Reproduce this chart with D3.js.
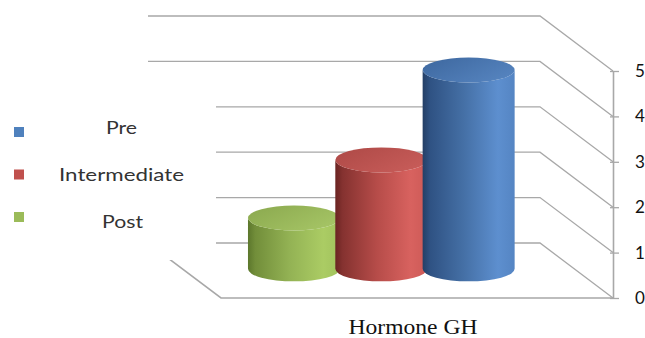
<!DOCTYPE html>
<html><head><meta charset="utf-8">
<script src="https://cdn.jsdelivr.net/npm/d3@7"></script>
<style>html,body{margin:0;padding:0;background:#fff;overflow:hidden}</style>
</head><body>
<svg id="c" width="645" height="338"></svg>
<script>
// ---- data ----
const category = ["Hormone GH"];
const series = ["Pre", "Intermediate", "Post"];
const values = [4.38, 2.4, 1.12];
const drawOrder = ["Post", "Intermediate", "Pre"]; // left to right
const colors = ["#4f81bd", "#c0504d", "#9bbb59"];
const yTicks = [0, 1, 2, 3, 4, 5];

// ---- layout ----
const svg = d3.select("#c");
const back = {left: 148, right: 540};
const depthDX = 73, depthDY = 55;
const yScale = d3.scaleLinear().domain([0, 5]).range([243, 16]); // back wall
const x0 = d3.scaleBand().domain(category).range([back.left, back.right]);
const x1 = d3.scaleBand().domain(drawOrder).range([68, 330]);
const cylDepth = 0.47; // fraction from back wall
const rx = 46, ry = 12.5;
const grid = "#a8a8a8";

const defs = svg.append("defs");
function hGrad(id, stops) {
  const g = defs.append("linearGradient").attr("id", id).attr("x1", 0).attr("x2", 1).attr("y1", 0).attr("y2", 0);
  stops.forEach(s => g.append("stop").attr("offset", s[0]).attr("stop-color", s[1]));
}
function tGrad(id, stops) {
  const g = defs.append("linearGradient").attr("id", id).attr("x1", 0).attr("x2", 1).attr("y1", 0).attr("y2", 0.6);
  stops.forEach(s => g.append("stop").attr("offset", s[0]).attr("stop-color", s[1]));
}
const sideStops = {
  "Pre": [[0, "#243f66"], [0.08, "#2f5283"], [0.45, "#4570a6"], [0.82, "#5d8fcf"], [1, "#5585c3"]],
  "Intermediate": [[0, "#6a2422"], [0.08, "#853230"], [0.45, "#b64c49"], [0.82, "#d8625f"], [1, "#cd5a57"]],
  "Post": [[0, "#5c772c"], [0.08, "#728e3a"], [0.45, "#93b254"], [0.82, "#abcc64"], [1, "#a1c25d"]]
};
const topStops = {
  "Pre": [[0, "#3d679e"], [1, "#5482bd"]],
  "Intermediate": [[0, "#ad4946"], [1, "#c65b58"]],
  "Post": [[0, "#8aa84e"], [1, "#a4c364"]]
};
series.forEach((s, i) => {
  hGrad("side" + i, sideStops[s]);
  tGrad("top" + i, topStops[s]);
});

// ---- grid: back wall + right wall + floor ----
const gGrid = svg.append("g").attr("fill", "none").attr("stroke", grid).attr("stroke-width", 1.3);
yTicks.forEach(t => {
  const yb = yScale(t);
  gGrid.append("path").attr("d",
    `M${back.left},${yb}L${back.right},${yb}L${back.right + depthDX},${yb + depthDY}`);
});
gGrid.append("path").attr("d",
  `M${back.left},${yScale(0)}L${back.left + depthDX},${yScale(0) + depthDY}L${back.right + depthDX},${yScale(0) + depthDY}`)
  .attr("stroke-width", 1.6);

// ---- legend (white box covers gridlines) ----
const leg = svg.append("g");
leg.append("rect").attr("x", 0).attr("y", 86).attr("width", 216).attr("height", 174).attr("fill", "#fff");
const legBox = d3.scalePoint().domain(series).range([127, 212]);
const legText = d3.scalePoint().domain(series).range([133.5, 228]);
series.forEach((s, i) => {
  leg.append("rect").attr("x", 14).attr("y", legBox(s)).attr("width", 10).attr("height", 10).attr("fill", colors[i]);
});
const legW = {"Pre": 31, "Intermediate": 125, "Post": 41};
const legX = {"Pre": 121.5, "Intermediate": 121.5, "Post": 122.5};
series.forEach(s => {
  leg.append("text").attr("x", legX[s]).attr("y", legText(s))
    .attr("text-anchor", "middle").attr("font-family", "Lato, 'Open Sans', sans-serif")
    .attr("font-size", 18).attr("fill", "#333")
    .attr("textLength", legW[s]).attr("lengthAdjust", "spacingAndGlyphs")
    .text(s);
});

// ---- front value axis ----
const axis = d3.axisRight(yScale).tickValues(yTicks).tickFormat(d3.format("d"))
  .tickSizeInner(6).tickSizeOuter(0).tickPadding(16);
const gAxis = svg.append("g").attr("transform", `translate(${back.right + depthDX},${depthDY})`).call(axis);
gAxis.select(".domain").attr("stroke", grid).attr("stroke-width", 1.6);
gAxis.selectAll(".tick line").attr("stroke", grid).attr("stroke-width", 1.3).attr("x1", -3);
gAxis.selectAll(".tick text").attr("font-family", "Lato, 'Open Sans', sans-serif").attr("font-size", 17).attr("fill", "#111");

// ---- cylinders ----
const gCyl = svg.append("g");
drawOrder.forEach(s => {
  const i = series.indexOf(s);
  const v = values[i];
  const cx = x0(category[0]) + x1(s) + x1.bandwidth() / 2 + cylDepth * depthDX;
  const yb = yScale(0) + cylDepth * depthDY;
  const yt = yScale(v) + cylDepth * depthDY;
  const side = `M${cx - rx},${yt}L${cx - rx},${yb}A${rx},${ry} 0 0 0 ${cx + rx},${yb}L${cx + rx},${yt}A${rx},${ry} 0 0 1 ${cx - rx},${yt}Z`;
  gCyl.append("path").attr("d", side).attr("fill", `url(#side${i})`);
  gCyl.append("ellipse").attr("cx", cx).attr("cy", yt).attr("rx", rx).attr("ry", ry)
    .attr("fill", `url(#top${i})`);
});

// ---- category label ----
svg.append("text").attr("x", x0(category[0]) + x0.bandwidth() / 2 + depthDX - 4).attr("y", 334)
  .attr("text-anchor", "middle").attr("font-family", "'Liberation Serif', 'Times New Roman', serif")
  .attr("font-size", 20).attr("fill", "#111")
  .attr("textLength", 129).attr("lengthAdjust", "spacingAndGlyphs")
  .text(category[0]);
</script>
</body></html>
